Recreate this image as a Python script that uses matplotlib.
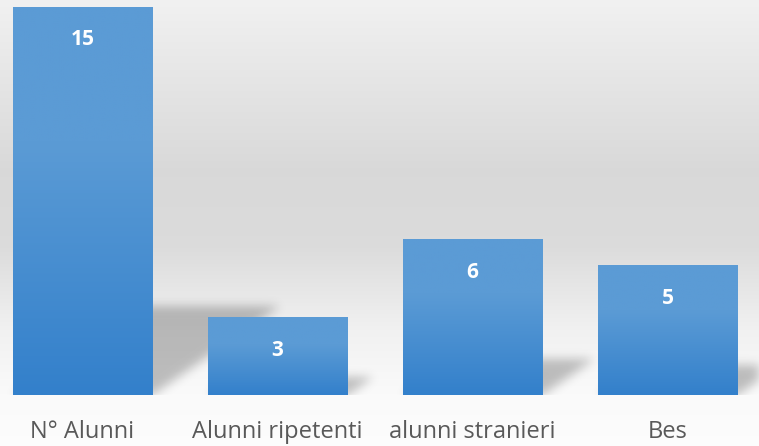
"""
plot.py

Bar chart of class numbers (alunni, ripetenti, stranieri, Bes) with
gradient bars, soft perspective shadows and a grey gradient background.
"""
import numpy as np
import matplotlib
matplotlib.use('Agg')
import matplotlib.pyplot as plt
from matplotlib.path import Path
from matplotlib.colors import to_rgb

# Data
categories = ['N° Alunni', 'Alunni ripetenti', 'alunni stranieri', 'Bes']
values = [15, 3, 6, 5]

# Set up fonts
plt.rcParams['font.family'] = ['Open Sans', 'DejaVu Sans']

W, H, DPI = 759, 446, 100
fig = plt.figure(figsize=(W / DPI, H / DPI), dpi=DPI)

# background gradient (figure fraction from top, grey level)
bg = fig.add_axes([0, 0, 1, 1], zorder=0)
stops_y = [0.0, 0.12, 0.38, 0.55, 0.74, 0.88, 1.0]
stops_g = [0.945, 0.915, 0.850, 0.860, 0.945, 0.980, 0.990]
yy = np.linspace(0, 1, H)
grey = np.interp(yy, stops_y, stops_g)
bg.imshow(np.repeat(grey[:, None, None], 3, axis=2) * np.ones((1, 2, 1)),
          aspect='auto', extent=(0, 1, 0, 1), interpolation='bilinear')
bg.axis('off')

# main axes: baseline at 395 px from top, spanning full width
base_px = 395
ax = fig.add_axes([0, (H - base_px) / H, 1, base_px / H], zorder=1)
ax.patch.set_alpha(0)
slot = 195.0
x0 = 82.5
xlim = (-x0 / slot, (W - x0) / slot)
ylim = (0, 15 * base_px / 388.0)
ax.set_xlim(*xlim)
ax.set_ylim(*ylim)
ax.axis('off')

bar_w = 140 / slot
x = np.arange(len(values))

# soft shadows, computed on a pixel grid over the axes
nx, ny = W, base_px
gx = xlim[0] + (np.arange(nx) + 0.5) / nx * (xlim[1] - xlim[0])
gy = ylim[1] - (np.arange(ny) + 0.5) / ny * (ylim[1] - ylim[0])
GX, GY = np.meshgrid(gx, gy)
pts = np.column_stack([GX.ravel(), GY.ravel()])
mask = np.zeros(nx * ny)
units_per_px_x = (xlim[1] - xlim[0]) / nx
units_per_px_y = (ylim[1] - ylim[0]) / ny
for xi, v in zip(x, values):
    h_px = v / units_per_px_y
    dx = 0.33 * h_px * units_per_px_x
    dy = 0.23 * h_px * units_per_px_y
    l, r = xi - bar_w / 2, xi + bar_w / 2
    poly = Path([(l, 0), (r, 0), (r + dx, dy), (l + dx, dy), (l, 0)])
    mask = np.maximum(mask, poly.contains_points(pts).astype(float))
mask = mask.reshape(ny, nx)


def blur(a, sigma):
    k = np.arange(-3 * sigma, 3 * sigma + 1)
    k = np.exp(-k ** 2 / (2.0 * sigma ** 2))
    k /= k.sum()
    a = np.apply_along_axis(lambda m: np.convolve(m, k, mode='same'), 0, a)
    a = np.apply_along_axis(lambda m: np.convolve(m, k, mode='same'), 1, a)
    return a


mask = blur(mask, 5)
shadow = np.zeros((ny, nx, 4))
shadow[..., 3] = 0.24 * mask
ax.imshow(shadow, extent=(xlim[0], xlim[1], ylim[0], ylim[1]),
          aspect='auto', interpolation='bilinear', zorder=1)

# gradient bars
c_top = np.array(to_rgb('#5b9bd5'))
c_bot = np.array(to_rgb('#3380cb'))
t = np.linspace(0, 1, 100)
f = np.clip((t - 0.35) / 0.65, 0, 1)
grad = (c_top[None, :] * (1 - f[:, None]) + c_bot[None, :] * f[:, None])
grad = grad[:, None, :]
for xi, v in zip(x, values):
    l, r = xi - bar_w / 2, xi + bar_w / 2
    ax.imshow(grad, extent=(l, r, 0, v), aspect='auto',
              interpolation='bilinear', zorder=2)
    ax.annotate(str(v), xy=(xi, v), xytext=(0, -23.5),
                textcoords='offset points', ha='center', va='center',
                color='white', fontsize=15, fontweight='bold', zorder=3)
    ax.annotate(categories[xi], xy=(xi, 0), xytext=(0, -27),
                textcoords='offset points', ha='center', va='center',
                color='#595959', fontsize=17, annotation_clip=False)

ax.set_xlim(*xlim)
ax.set_ylim(*ylim)

plt.savefig('out.png', dpi=DPI)
